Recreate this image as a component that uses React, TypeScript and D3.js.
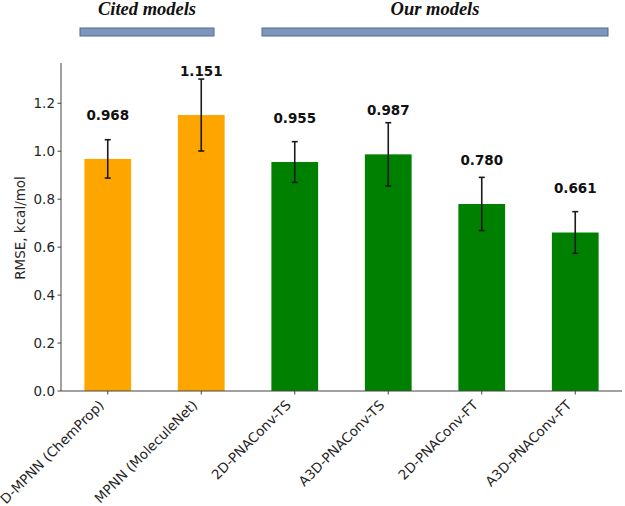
import React from "react";
import * as d3 from "d3";

const categories = [
  "D-MPNN (ChemProp)",
  "MPNN (MoleculeNet)",
  "2D-PNAConv-TS",
  "A3D-PNAConv-TS",
  "2D-PNAConv-FT",
  "A3D-PNAConv-FT",
];
const rmse = [0.968, 1.151, 0.955, 0.987, 0.78, 0.661];
const errors = [0.08, 0.15, 0.085, 0.132, 0.111, 0.087];
const groups = ["cited", "cited", "ours", "ours", "ours", "ours"];
const yTicks = [0, 0.2, 0.4, 0.6, 0.8, 1.0, 1.2];
const groupLabels = [
  { label: "Cited models", x0: 80, x1: 214 },
  { label: "Our models", x0: 262, x1: 608 },
];

const W = 625;
const H = 506;
const LEFT = 61;
const RIGHT = 622;
const TOP = 63;
const BOTTOM = 391;
const FONT = "DejaVu Sans, sans-serif";

export default function App() {
  const x = d3
    .scaleBand<string>()
    .domain(categories)
    .range([LEFT, RIGHT])
    .paddingInner(0.5)
    .paddingOuter(0.25);
  const y = d3.scaleLinear().domain([0, 1.368]).range([BOTTOM, TOP]);
  const bw = x.bandwidth();
  const color = (g: string) => (g === "cited" ? "#FFA500" : "#008000");

  return (
    <svg
      width={W}
      height={H}
      style={{ position: "absolute", left: 0, top: 0, background: "#fff" }}
      fontFamily={FONT}
    >
      {/* group headers */}
      {groupLabels.map((g) => (
        <g key={g.label}>
          <text
            x={(g.x0 + g.x1) / 2}
            y={15}
            textAnchor="middle"
            fontFamily="Liberation Serif, Times New Roman, serif"
            fontWeight="bold"
            fontStyle="italic"
            fontSize={18.5}
            fill="#111"
          >
            {g.label}
          </text>
          <rect
            x={g.x0}
            y={28}
            width={g.x1 - g.x0}
            height={8}
            fill="#7f95ba"
            stroke="#4e6c99"
            strokeWidth={1}
          />
        </g>
      ))}

      {/* bars */}
      {categories.map((c, i) => (
        <rect
          key={c}
          x={x(c)!}
          y={y(rmse[i])}
          width={bw}
          height={y(0) - y(rmse[i])}
          fill={color(groups[i])}
        />
      ))}

      {/* error bars */}
      {categories.map((c, i) => {
        const cx = x(c)! + bw / 2;
        const t = y(rmse[i] + errors[i]);
        const b = y(rmse[i] - errors[i]);
        return (
          <g key={"e" + c} stroke="#1a1a1a" strokeWidth={1.6}>
            <line x1={cx} x2={cx} y1={t} y2={b} />
            <line x1={cx - 3} x2={cx + 3} y1={t} y2={t} />
            <line x1={cx - 3} x2={cx + 3} y1={b} y2={b} />
          </g>
        );
      })}

      {/* value labels */}
      {categories.map((c, i) => (
        <text
          key={"v" + c}
          x={x(c)! + bw / 2}
          y={y(rmse[i] + 0.163)}
          textAnchor="middle"
          fontWeight="bold"
          fontSize={13.5}
          fill="#111"
        >
          {rmse[i].toFixed(3)}
        </text>
      ))}

      {/* spines */}
      <line x1={LEFT} x2={LEFT} y1={TOP} y2={BOTTOM} stroke="#444" strokeWidth={1} />
      <line x1={LEFT} x2={RIGHT} y1={BOTTOM} y2={BOTTOM} stroke="#444" strokeWidth={1} />

      {/* y ticks */}
      {yTicks.map((t) => (
        <g key={"yt" + t}>
          <line x1={LEFT - 3.5} x2={LEFT} y1={y(t)} y2={y(t)} stroke="#444" strokeWidth={1} />
          <text
            x={LEFT - 6}
            y={y(t)}
            dy="0.36em"
            textAnchor="end"
            fontSize={13.5}
            fill="#262626"
          >
            {t.toFixed(1)}
          </text>
        </g>
      ))}

      {/* x ticks */}
      {categories.map((c) => {
        const cx = x(c)! + bw / 2;
        return (
          <g key={"xt" + c}>
            <line x1={cx} x2={cx} y1={BOTTOM} y2={BOTTOM + 3.5} stroke="#444" strokeWidth={1} />
            <text
              transform={`translate(${cx - 3},${BOTTOM + 15}) rotate(-45)`}
              textAnchor="end"
              fontSize={13.5}
              fill="#262626"
            >
              {c}
            </text>
          </g>
        );
      })}

      {/* y label */}
      <text
        transform={`translate(25,${(TOP + BOTTOM) / 2 + 1}) rotate(-90)`}
        textAnchor="middle"
        fontSize={13.5}
        fill="#262626"
      >
        RMSE, kcal/mol
      </text>
    </svg>
  );
}
